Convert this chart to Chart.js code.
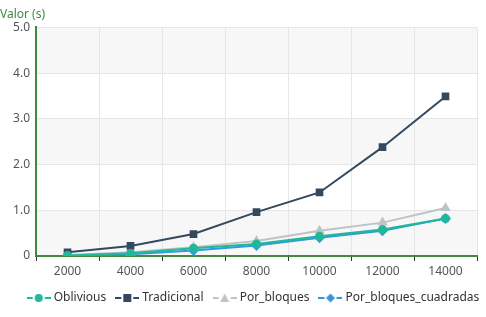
<!DOCTYPE html>
<html>
<head>
<meta charset="utf-8">
<script src="https://cdn.jsdelivr.net/npm/chart.js"></script>
<style>
  html, body { margin: 0; padding: 0; background: #fff; }
  #wrap { width: 486px; height: 317px; }
</style>
</head>
<body>
<div id="wrap"><canvas id="c"></canvas></div>
<script>
const sizes        = ['2000', '4000', '6000', '8000', '10000', '12000', '14000'];
const oblivious    = [0.01, 0.06, 0.17, 0.26, 0.43, 0.58, 0.82];
const tradicional  = [0.08, 0.22, 0.48, 0.96, 1.39, 2.38, 3.49];
const porBloques   = [0.02, 0.08, 0.19, 0.33, 0.55, 0.73, 1.05];
const porBloquesC  = [0.01, 0.04, 0.12, 0.23, 0.40, 0.55, 0.82];
const yTicks       = [0, 1, 2, 3, 4, 5];

const FONT = "'Noto Sans', 'DejaVu Sans', sans-serif";
const GREEN = '#3f8a3f';

// legend icon: short line with the marker in the middle
function legendIcon(color, style) {
  const c = document.createElement('canvas');
  c.width = 24; c.height = 12;
  const g = c.getContext('2d');
  g.strokeStyle = color; g.fillStyle = color; g.lineWidth = 2;
  g.beginPath(); g.moveTo(0, 6); g.lineTo(6, 6); g.moveTo(18, 6); g.lineTo(24, 6); g.stroke();
  g.beginPath();
  if (style === 'circle') g.arc(12, 6, 4, 0, Math.PI * 2);
  else if (style === 'rect') g.rect(8, 2, 8, 8);
  else if (style === 'triangle') { g.moveTo(12, 1.5); g.lineTo(16.5, 10); g.lineTo(7.5, 10); g.closePath(); }
  else { g.moveTo(12, 1.5); g.lineTo(16.5, 6); g.lineTo(12, 10.5); g.lineTo(7.5, 6); g.closePath(); }
  g.fill();
  return c;
}

const series = [
  { label: 'Oblivious', data: oblivious, color: '#1fb89a', style: 'circle', r: 3.5 },
  { label: 'Tradicional', data: tradicional, color: '#34495e', style: 'rect', r: 4 },
  { label: 'Por_bloques', data: porBloques, color: '#bdc3c7', style: 'triangle', r: 4 },
  { label: 'Por_bloques_cuadradas', data: porBloquesC, color: '#3498db', style: 'rectRot', r: 4 },
];

// alternating grey bands behind the grid
const splitArea = {
  id: 'splitArea',
  beforeDraw(chart) {
    const { ctx, chartArea, scales } = chart;
    const y = scales.y;
    ctx.save();
    for (let i = 0; i < yTicks.length - 1; i += 2) {
      const top = y.getPixelForValue(yTicks[i + 1]);
      const bot = y.getPixelForValue(yTicks[i]);
      ctx.fillStyle = '#f7f7f7';
      ctx.fillRect(chartArea.left, top, chartArea.right - chartArea.left, bot - top);
    }
    ctx.restore();
  }
};

// nudge the legend row a little to the right, like the original
const legendShift = {
  id: 'legendShift',
  afterLayout(chart) {
    const lg = chart.legend;
    lg.left += 16; lg.right += 16;
  }
};

new Chart(document.getElementById('c'), {
  type: 'line',
  data: {
    labels: sizes,
    datasets: series.map(s => ({
      label: s.label,
      data: s.data,
      borderColor: s.color,
      backgroundColor: s.color,
      pointStyle: s.style,
      pointRadius: s.r,
      pointHoverRadius: s.r,
      borderWidth: 2,
      tension: 0,
      fill: false,
      legendIcon: legendIcon(s.color, s.style),
    }))
  },
  options: {
    responsive: true,
    maintainAspectRatio: false,
    animation: false,
    layout: { padding: { left: 0, right: 9, top: 0, bottom: 3 } },
    plugins: {
      title: {
        display: true, text: 'Valor (s)', align: 'start', color: GREEN,
        font: { family: FONT, size: 12, weight: 'normal' }, padding: { top: 7, bottom: 6 }
      },
      legend: {
        position: 'bottom',
        labels: {
          usePointStyle: true,
          pointStyleWidth: 18,
          boxHeight: 12,
          padding: 12,
          color: '#333',
          font: { family: FONT, size: 12 },
          generateLabels(chart) {
            return chart.data.datasets.map((d, i) => ({
              text: d.label, datasetIndex: i, pointStyle: d.legendIcon,
              fillStyle: d.borderColor, strokeStyle: d.borderColor, lineWidth: 0, fontColor: '#333'
            }));
          }
        }
      },
      tooltip: { enabled: false }
    },
    scales: {
      x: {
        offset: true,
        afterFit(s) { s.height = 24; },
        grid: {
          offset: true, tickColor: '#333', tickLength: 5, drawOnChartArea: true,
          color: c => c.index === 0 ? 'rgba(0,0,0,0)' : '#e6e6e6'
        },
        border: { color: GREEN, width: 2 },
        ticks: { color: '#555', font: { family: FONT, size: 12 }, padding: 3 },
      },
      y: {
        min: 0, max: 5,
        afterFit(s) { s.width = 36; },
        afterBuildTicks(s) { s.ticks = yTicks.map(v => ({ value: v })); },
        grid: { color: c => c.index === 0 ? 'rgba(0,0,0,0)' : '#e6e6e6', drawTicks: false },
        border: { color: GREEN, width: 2 },
        ticks: {
          color: '#555', font: { family: FONT, size: 12 }, padding: 6,
          callback: v => v === 0 ? '0' : v.toFixed(1)
        }
      }
    }
  },
  plugins: [splitArea, legendShift]
});
</script>
</body>
</html>
